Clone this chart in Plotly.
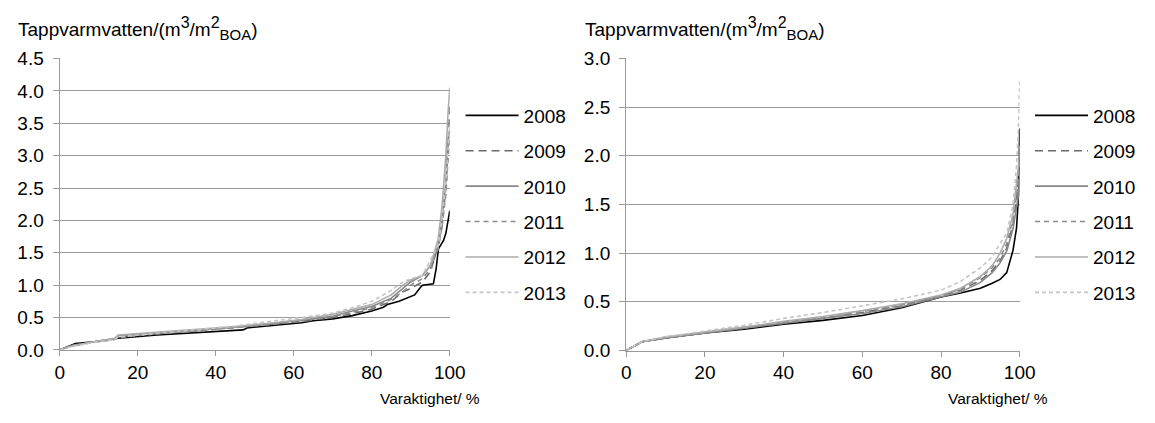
import plotly.graph_objects as go

years = ["2008", "2009", "2010", "2011", "2012", "2013"]

# Left chart: duration (%) and hot-water use (m3/m2 BOA)
left_x = [0, 3, 8, 14, 15, 25, 35, 45, 55, 62, 70, 75, 80, 85, 88, 90, 93, 95, 96, 97, 98, 99, 99.5, 100]
left_2008_x = [0, 3, 4, 8, 15, 25, 35, 45, 47, 48, 55, 62, 65, 70, 75, 80, 83, 84, 87, 91, 92.4, 93, 95.8, 96.5, 97.1, 98.4, 99, 99.5, 100]
left_2008 = [0, 0.08, 0.10, 0.12, 0.18, 0.23, 0.27, 0.31, 0.31, 0.34, 0.38, 0.42, 0.45, 0.48, 0.53, 0.60, 0.66, 0.70, 0.75, 0.85, 0.96, 1.00, 1.02, 1.25, 1.56, 1.69, 1.80, 1.95, 2.15]
left_2009 = [0, 0.07, 0.12, 0.17, 0.20, 0.25, 0.29, 0.34, 0.40, 0.44, 0.50, 0.56, 0.63, 0.75, 0.90, 0.95, 1.05, 1.20, 1.40, 1.60, 1.90, 2.50, 3.00, 3.75]
left_2010 = [0, 0.06, 0.12, 0.17, 0.22, 0.26, 0.30, 0.35, 0.41, 0.46, 0.52, 0.60, 0.67, 0.80, 0.95, 1.05, 1.15, 1.30, 1.45, 1.60, 2.00, 2.60, 3.20, 3.40]
left_2011 = [0, 0.06, 0.11, 0.16, 0.19, 0.25, 0.29, 0.34, 0.40, 0.45, 0.52, 0.58, 0.65, 0.78, 0.90, 1.00, 1.10, 1.25, 1.40, 1.55, 1.90, 2.40, 2.90, 3.30]
left_2012 = [0, 0.06, 0.12, 0.18, 0.23, 0.27, 0.31, 0.36, 0.42, 0.47, 0.55, 0.62, 0.70, 0.85, 1.00, 1.08, 1.15, 1.30, 1.50, 1.70, 2.20, 3.00, 3.60, 4.05]
left_2013 = [0, 0.05, 0.11, 0.16, 0.20, 0.26, 0.31, 0.37, 0.45, 0.50, 0.57, 0.65, 0.75, 0.92, 1.05, 1.10, 1.15, 1.40, 1.50, 1.60, 2.00, 2.60, 3.10, 3.50]

# Right chart
right_x = [0, 4, 10, 20, 30, 40, 50, 60, 70, 80, 85, 90, 93, 95, 96.7, 98.3, 99.2, 99.7, 100]
right_2008 = [0, 0.09, 0.13, 0.18, 0.22, 0.27, 0.31, 0.36, 0.44, 0.55, 0.59, 0.64, 0.69, 0.73, 0.80, 1.03, 1.26, 1.60, 2.28]
right_2009 = [0, 0.09, 0.13, 0.18, 0.23, 0.28, 0.33, 0.39, 0.46, 0.56, 0.62, 0.72, 0.82, 0.92, 1.05, 1.30, 1.55, 1.75, 1.95]
right_2010 = [0, 0.09, 0.13, 0.18, 0.23, 0.28, 0.33, 0.38, 0.45, 0.55, 0.60, 0.70, 0.80, 0.90, 1.02, 1.25, 1.45, 1.60, 1.80]
right_2011 = [0, 0.09, 0.13, 0.19, 0.24, 0.29, 0.34, 0.40, 0.47, 0.56, 0.63, 0.75, 0.85, 0.95, 1.10, 1.35, 1.60, 1.80, 2.00]
right_2012 = [0, 0.09, 0.14, 0.19, 0.24, 0.30, 0.35, 0.41, 0.48, 0.57, 0.64, 0.76, 0.87, 1.00, 1.15, 1.40, 1.70, 1.90, 2.10]
right_2013 = [0, 0.09, 0.14, 0.20, 0.26, 0.33, 0.39, 0.46, 0.53, 0.62, 0.71, 0.85, 0.96, 1.10, 1.20, 1.50, 1.90, 2.30, 2.80]

left_tickvals = [0, 0.5, 1.0, 1.5, 2.0, 2.5, 3.0, 3.5, 4.0, 4.5]
right_tickvals = [0, 0.5, 1.0, 1.5, 2.0, 2.5, 3.0]
x_tickvals = [0, 20, 40, 60, 80, 100]

styles = {
    "2008": dict(color="#000000", dash="solid"),
    "2009": dict(color="#6b6b6b", dash="8px,5px"),
    "2010": dict(color="#888888", dash="solid"),
    "2011": dict(color="#8c8c8c", dash="5px,4px"),
    "2012": dict(color="#ababab", dash="solid"),
    "2013": dict(color="#c6c6c6", dash="4px,3px"),
}

FONT = "Liberation Sans, Arial, sans-serif"
FS = 19
fig = go.Figure()

left_series = [(left_2008_x, left_2008), (left_x, left_2009), (left_x, left_2010),
               (left_x, left_2011), (left_x, left_2012), (left_x, left_2013)]
right_series = [right_2008, right_2009, right_2010, right_2011, right_2012, right_2013]

for yr, (xs, ys) in zip(years, left_series):
    st = styles[yr]
    fig.add_trace(go.Scatter(x=xs, y=ys, mode="lines", name=yr, legend="legend",
                             legendgroup="L" + yr,
                             line=dict(color=st["color"], dash=st["dash"], width=1.6),
                             xaxis="x", yaxis="y"))
for yr, ys in zip(years, right_series):
    st = styles[yr]
    fig.add_trace(go.Scatter(x=right_x, y=ys, mode="lines", name=yr, legend="legend2",
                             legendgroup="R" + yr,
                             line=dict(color=st["color"], dash=st["dash"], width=1.6),
                             xaxis="x2", yaxis="y2"))

W, H = 1155, 423
def px_x(p):
    return p / W
def px_y(p):
    return 1 - p / H

axis_common = dict(showline=True, linecolor="#9a9a9a", linewidth=1.3, ticks="outside",
                   tickcolor="#9a9a9a", tickwidth=1.3,
                   tickfont=dict(family=FONT, size=FS, color="#000000"), zeroline=False)

fig.update_layout(
    width=W, height=H, margin=dict(l=0, r=0, t=0, b=0),
    paper_bgcolor="white", plot_bgcolor="white",
    showlegend=True,
    xaxis=dict(domain=[px_x(55.7), px_x(453)], range=[0, 100], tickvals=x_tickvals,
               showgrid=False, anchor="y", ticklen=5, **axis_common),
    yaxis=dict(domain=[px_y(357.7), px_y(51)], range=[0, 4.5], tickvals=left_tickvals,
               tickformat=".1f", showgrid=True, gridcolor="#9a9a9a", gridwidth=1.3,
               anchor="x", ticklen=6, ticklabelstandoff=5, **axis_common),
    xaxis2=dict(domain=[px_x(632.7), px_x(1033.5)], range=[0, 100], tickvals=x_tickvals,
                showgrid=False, anchor="y2", ticklen=5, **axis_common),
    yaxis2=dict(domain=[px_y(358.3), px_y(51)], range=[0, 3.0], tickvals=right_tickvals,
                tickformat=".1f", showgrid=True, gridcolor="#9a9a9a", gridwidth=1.3,
                anchor="x2", ticklen=6, ticklabelstandoff=5, **axis_common),
    legend=dict(x=px_x(464), y=px_y(91), xanchor="left", yanchor="top",
                font=dict(family=FONT, size=FS, color="#000000"),
                tracegroupgap=7.7, bgcolor="rgba(0,0,0,0)", itemwidth=53),
    legend2=dict(x=px_x(1044), y=px_y(91), xanchor="left", yanchor="top",
                 font=dict(family=FONT, size=FS, color="#000000"),
                 tracegroupgap=7.7, bgcolor="rgba(0,0,0,0)", itemwidth=53),
)

title_txt = ("Tappvarmvatten/(m<sup><span style='font-size:16px'>3</span></sup>/m"
             "<sup><span style='font-size:16px'>2</span></sup>"
             "<sub><span style='font-size:15px'>BOA</span></sub>)")
for xpos in [11, 589]:
    fig.add_annotation(text=title_txt, xref="paper", yref="paper", x=px_x(xpos), y=px_y(19.5),
                       xanchor="left", yanchor="middle", showarrow=False,
                       font=dict(family=FONT, size=FS, color="#000000"))
for xpos in [486, 1064]:
    fig.add_annotation(text="Varaktighet/ %", xref="paper", yref="paper", x=px_x(xpos), y=px_y(409),
                       xanchor="right", yanchor="middle", showarrow=False,
                       font=dict(family=FONT, size=15.5, color="#000000"))

fig.write_html("out.html")
